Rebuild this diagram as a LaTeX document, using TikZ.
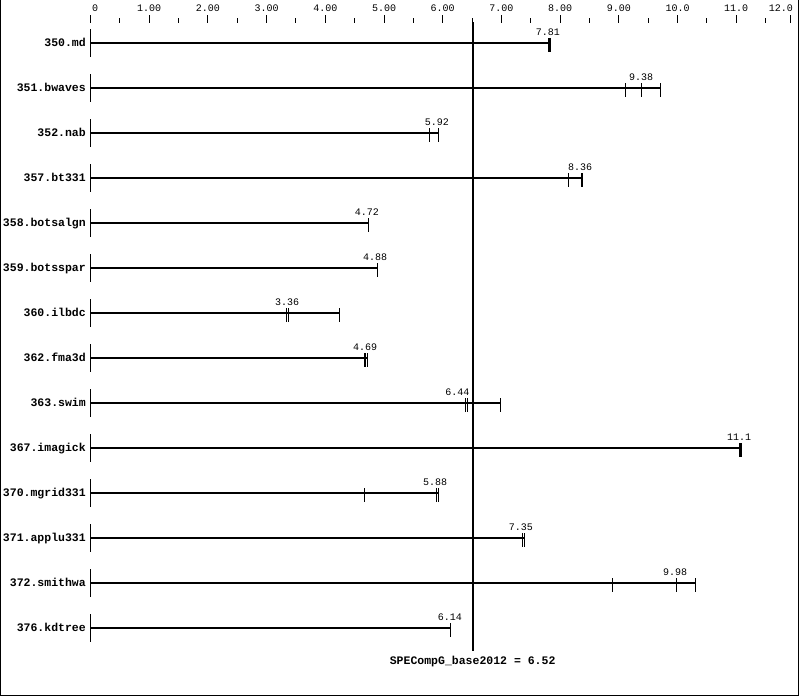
\documentclass[tikz,border=0pt]{standalone}
\usepackage{fontspec}
\setmonofont{Liberation Mono}
\usetikzlibrary{positioning}

\tikzstyle{benchlabel} = [font=\ttfamily\bfseries\fontsize{11.5}{12}\selectfont,
    anchor=base east, inner sep=0pt]
\tikzstyle{runvalue} = [font=\ttfamily\fontsize{10}{11}\selectfont,
    anchor=base, inner sep=0pt]
\tikzstyle{barline} = [line width=2pt]
\tikzstyle{runtick} = [line width=1pt]

\begin{document}
\begin{tikzpicture}[x=1pt, y=-1pt]
\useasboundingbox (0,0) rectangle (799,696);
\draw[runtick] (0.5,0) -- (0.5,695.5) -- (798.5,695.5) -- (798.5,0);

\begin{scope}[xshift=90.5pt, x=58.7pt]
%------------ Achse oben ---------------------
\foreach \t in {0,...,11}
    \draw[runtick] (\t,15) -- (\t,23);
\draw[runtick] (11.92,15) -- (11.92,23);
\foreach \t in {0.5,1.5,...,11.5}
    \draw[runtick] (\t,18.3) -- (\t,23);
\foreach \t/\lab in {0.08/0, 1/1.00, 2/2.00, 3/3.00, 4/4.00, 5/5.00, 6/6.00,
    7/7.00, 8/8.00, 9/9.00, 10/10.0, 11/11.0, 11.76/12.0}
    \node[runvalue] (axis\lab) at (\t,11) {\lab};

%------------ Balken ---------------------
\foreach \bench/\runs/\xend/\med/\medx [count=\i] in {
    350.md/{7.82/2.5}/7.82/7.81/7.79,
    351.bwaves/{9.12/1,9.38/1,9.71/1}/9.71/9.38/9.38,
    352.nab/{5.77/1,5.92/1}/5.92/5.92/5.90,
    357.bt331/{8.15/1,8.37/2.5}/8.37/8.36/8.34,
    358.botsalgn/{4.73/1}/4.73/4.72/4.71,
    359.botsspar/{4.89/1}/4.89/4.88/4.85,
    360.ilbdc/{3.34/1,3.38/1,4.24/1}/4.24/3.36/3.35,
    362.fma3d/{4.66/1,4.69/1,4.72/1}/4.72/4.69/4.68,
    363.swim/{6.39/1,6.43/1,6.98/1}/6.98/6.44/6.25,
    367.imagick/{11.07/3}/11.07/11.1/11.05,
    370.mgrid331/{4.66/1,5.90/1,5.93/1}/5.93/5.88/5.87,
    371.applu331/{7.36/1,7.39/1}/7.39/7.35/7.33,
    372.smithwa/{8.90/1,9.99/1,10.30/1}/10.30/9.98/9.96,
    376.kdtree/{6.14/1}/6.14/6.14/6.12}
{
    \pgfmathsetmacro{\yy}{43.3+45*(\i-1)}
    \node[benchlabel] (bench\i) at ([xshift=-4.5pt]0,{\yy+3}) {\bench};
    \draw[runtick] (0,{\yy-14}) -- (0,{\yy+14});
    \draw[barline] (0,\yy) -- (\xend,\yy);
    \foreach \r/\w in \runs
        \draw[line width=\w pt] (\r,{\yy-5}) -- (\r,{\yy+8.5});
    \node[runvalue] (median\i) at (\medx,{\yy-8}) {\med};
}

%------------ Basislinie ---------------------
\draw[barline] (6.52,22) -- (6.52,651);
\node[benchlabel, anchor=base] (base) at (6.51,664) {SPECompG\_base2012 = 6.52};
\end{scope}
\end{tikzpicture}
\end{document}
